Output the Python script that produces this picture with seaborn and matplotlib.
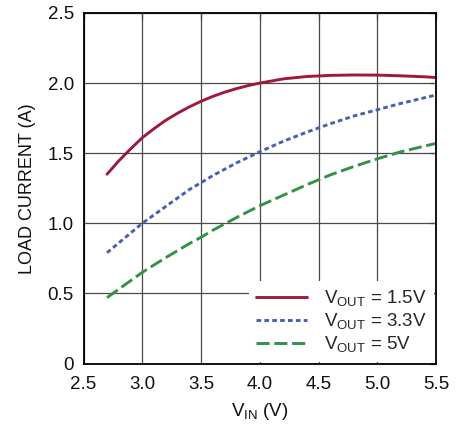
import matplotlib
matplotlib.use("Agg")
import matplotlib.pyplot as plt
import seaborn as sns
import pandas as pd

# values
vin = [2.7, 2.8, 2.9, 3.0, 3.1, 3.2, 3.3, 3.4, 3.5, 3.6, 3.7, 3.8, 3.9, 4.0,
       4.2, 4.4, 4.6, 4.8, 5.0, 5.2, 5.4, 5.5]
i_1v5 = [1.35, 1.445, 1.53, 1.61, 1.675, 1.735, 1.785, 1.83, 1.87, 1.905, 1.935, 1.96, 1.982, 2.0,
         2.03, 2.047, 2.055, 2.058, 2.057, 2.052, 2.045, 2.04]
i_3v3 = [0.79, 0.86, 0.93, 1.0, 1.06, 1.12, 1.18, 1.24, 1.29, 1.34, 1.385, 1.43, 1.47, 1.51,
         1.585, 1.65, 1.71, 1.765, 1.81, 1.855, 1.895, 1.915]
i_5v = [0.47, 0.53, 0.59, 0.65, 0.703, 0.755, 0.805, 0.855, 0.90, 0.95, 0.995, 1.04, 1.083, 1.125,
        1.20, 1.275, 1.345, 1.405, 1.46, 1.51, 1.55, 1.57]
series_names = ["$\\mathregular{V_{OUT}}$ = 1.5V", "$\\mathregular{V_{OUT}}$ = 3.3V", "$\\mathregular{V_{OUT}}$ = 5V"]
x_ticks = [2.5, 3.0, 3.5, 4.0, 4.5, 5.0, 5.5]
y_ticks = [0, 0.5, 1.0, 1.5, 2.0, 2.5]
y_tick_labels = ["0", "0.5", "1.0", "1.5", "2.0", "2.5"]

sns.set_style("white")
plt.rcParams['font.family'] = ['Liberation Sans', 'DejaVu Sans']
plt.rcParams['mathtext.default'] = 'regular'

df = pd.DataFrame({"vin": vin * 3,
                   "current": i_1v5 + i_3v3 + i_5v,
                   "series": [series_names[0]] * len(vin) + [series_names[1]] * len(vin) + [series_names[2]] * len(vin)})

colors = ["#9e1a3a", "#4a5fb4", "#379048"]
dashes = {series_names[0]: "", series_names[1]: (1.6, 1.1), series_names[2]: (4.5, 1.6)}

fig = plt.figure(figsize=(4.65, 4.25), dpi=100)
ax = fig.add_axes([83.5 / 465, 1 - 363.5 / 425, 352.5 / 465, 350.5 / 425])

# grid drawn by hand so the legend can hide it while the ticks stay on top
for xv in x_ticks:
    ax.axvline(xv, color="#4a4a4a", lw=0.9, zorder=0.8)
for yv in y_ticks:
    ax.axhline(yv, color="#4a4a4a", lw=0.9, zorder=0.8)

sns.lineplot(data=df, x="vin", y="current", hue="series", style="series",
             palette=colors, dashes=dashes, linewidth=2.1, ax=ax, sort=False)

ax.set_xlim(2.5, 5.5)
ax.set_ylim(0, 2.5)
ax.set_xticks(x_ticks)
ax.set_yticks(y_ticks)
ax.set_yticklabels(y_tick_labels)
ax.tick_params(direction="in", length=4, width=0.9, color="#333333", labelsize=13.5,
               top=True, right=True, pad=9, labelcolor="#111111")
ax.tick_params(axis="y", pad=7)
for sp in ax.spines.values():
    sp.set_color("black")
    sp.set_linewidth(1.3)

ax.set_xlabel("$\\mathregular{V_{IN}}$ (V)", fontsize=13.5, labelpad=6, color="#111111")
ax.set_ylabel("LOAD CURRENT (A)", fontsize=13, labelpad=8, color="#111111")

leg = ax.legend(loc="lower right", fontsize=13.5, frameon=True, framealpha=1,
                edgecolor="none", fancybox=False, handlelength=2.7,
                borderaxespad=0.1, labelspacing=0.15, handletextpad=0.9)
leg.get_frame().set_facecolor("white")
leg.set_zorder(1)

fig.savefig("out.png", dpi=100)
